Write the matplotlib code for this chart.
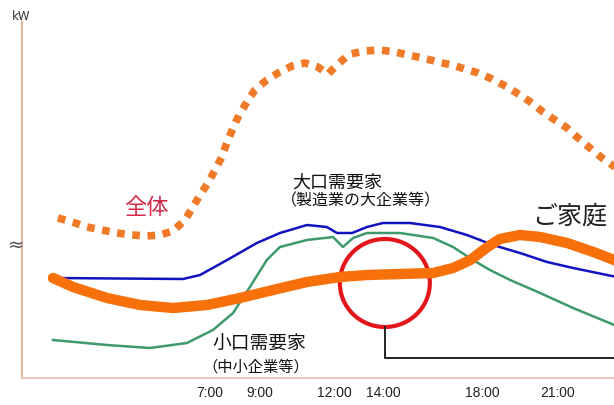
import matplotlib
matplotlib.use('Agg')
from matplotlib import pyplot as plt
from matplotlib.patches import Ellipse

plt.rcParams['font.family'] = ['Noto Sans CJK JP', 'DejaVu Sans']

# hours of the day / demand level (arbitrary kW units)
total_h = [0.87, 1.44, 2.04, 2.65, 3.25, 3.85, 4.46, 4.98, 5.51, 5.99, 6.31, 6.60,
           6.92, 7.20, 7.48, 7.69, 7.93, 8.17, 8.49, 8.81, 9.29, 9.74, 10.31, 10.83,
           11.35, 11.76, 12.16, 12.64, 13.25, 13.85, 14.46, 14.98, 15.59, 16.19,
           16.76, 17.28, 17.81, 18.37, 18.98, 19.50, 19.98, 20.43, 20.91, 21.40,
           21.84, 22.32, 22.81, 23.5]
total_kw = [160, 156, 151, 148, 145, 143, 142, 143, 147, 158, 171, 183,
            195, 208, 221, 236, 250, 263, 276, 288, 298, 305, 312, 315,
            311, 304, 314, 324, 327, 328, 326, 323, 320, 316,
            313, 309, 305, 299, 291, 283, 275, 266, 258, 250,
            240, 230, 220, 208]

large_h = [0.67, 5.91, 6.60, 7.69, 8.89, 9.82, 10.91, 11.71, 12.12, 12.73, 13.33,
           13.97, 15.06, 16.27, 17.36, 18.41, 19.50, 20.59, 21.64, 23.4]
large_kw = [100, 99, 103, 118, 135, 145, 153, 151, 145, 145, 151,
            155, 155, 151, 143, 133, 125, 116, 110, 101]

small_h = [0.67, 2.85, 4.58, 6.07, 7.12, 7.93, 8.61, 9.29, 9.82, 10.91, 11.96, 12.36,
           12.77, 13.33, 14.66, 16.00, 16.80, 17.60, 18.29, 19.10, 20.31, 21.64, 23.4]
small_kw = [38, 33, 30, 35, 48, 65, 91, 118, 131, 138, 141, 131,
            140, 145, 145, 140, 131, 118, 108, 98, 85, 70, 52]

home_h = [0.67, 1.48, 2.85, 4.18, 5.51, 6.88, 8.21, 9.54, 10.91, 12.24, 13.33, 14.66,
          16.00, 16.80, 17.50, 18.19, 18.69, 19.50, 20.31, 21.40, 22.46, 23.4]
home_kw = [100, 91, 80, 73, 70, 73, 80, 88, 96, 101, 103, 104,
           105, 110, 118, 131, 139, 143, 141, 135, 126, 117]

tick_hours = [7, 9, 12, 14, 18, 21]
tick_labels = ['7:00', '9:00', '12:00', '14:00', '18:00', '21:00']

fig = plt.figure(figsize=(6.14, 4.05), dpi=100)
ax = fig.add_axes([22/614, 27/405, 1 - 22/614, 356/405])
ax.set_xlim(-0.58, 23.29)
ax.set_ylim(0, 356)

ax.plot(total_h, total_kw, color='#f07a28', lw=5.5, linestyle=(0, (1, 1)),
        dash_capstyle='butt')
ax.plot(small_h, small_kw, color='#3d9a6c', lw=1.8)
ax.plot(large_h, large_kw, color='#1212c0', lw=1.8)
ax.plot(home_h, home_kw, color='#f7700a', lw=7.5, solid_capstyle='round')

# highlight around 14:00
ax.add_patch(Ellipse((14.05, 95), 3.63, 88, fill=False, ec='#e3161b', lw=3))
ax.plot([14.05, 14.05, 23.5], [51, 20, 20], color='#222222', lw=1.4, clip_on=False)

ax.text(4.42, 171, '全体', color='#d42a48', fontsize=16, ha='center', va='center')
ax.text(10.31, 195, '大口需要家', color='#111111', fontsize=13, va='center')
ax.text(9.85, 177, '（製造業の大企業等）', color='#111111', fontsize=11.5, va='center')
ax.text(7.08, 34, '小口需要家', color='#111111', fontsize=13.5, va='center')
ax.text(6.7, 11, '（中小企業等）', color='#111111', fontsize=11, va='center')
ax.text(20.0, 161, 'ご家庭', color='#222222', fontsize=18, va='center')
ax.text(-0.62, 362, 'kW', color='#333333', fontsize=8.5, ha='center', va='center',
        family='DejaVu Sans')
ax.text(-0.8, 133, '≈', color='#555555', fontsize=14, ha='center', va='center',
        family='DejaVu Sans')

ax.set_xticks(tick_hours)
ax.set_xticklabels(tick_labels, fontsize=10, color='#222222', family='Liberation Sans')
ax.tick_params(axis='x', length=0, pad=6)
ax.set_yticks([])
ax.spines['left'].set_color('#d8a080')
ax.spines['bottom'].set_color('#eab4a0')
ax.spines['left'].set_linewidth(1.1)
ax.spines['bottom'].set_linewidth(1.1)
ax.spines['top'].set_visible(False)
ax.spines['right'].set_visible(False)

fig.savefig('out.png', dpi=100)
